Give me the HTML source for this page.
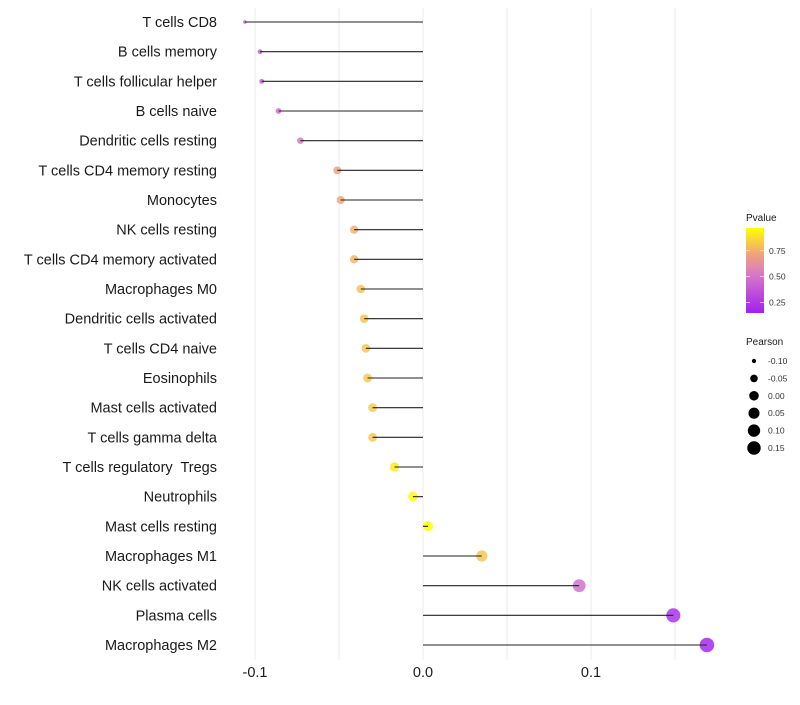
<!DOCTYPE html>
<html><head><meta charset="utf-8"><style>
body{margin:0;background:#fff;font-family:"Liberation Sans",sans-serif}
</style></head><body>
<svg id="chart" width="800" height="700" font-family="Liberation Sans, sans-serif"></svg>
<script>
const categories=["T cells CD8","B cells memory","T cells follicular helper","B cells naive","Dendritic cells resting","T cells CD4 memory resting","Monocytes","NK cells resting","T cells CD4 memory activated","Macrophages M0","Dendritic cells activated","T cells CD4 naive","Eosinophils","Mast cells activated","T cells gamma delta","T cells regulatory  Tregs","Neutrophils","Mast cells resting","Macrophages M1","NK cells activated","Plasma cells","Macrophages M2"];
const pearson=[-0.106,-0.097,-0.096,-0.086,-0.073,-0.051,-0.049,-0.041,-0.041,-0.037,-0.035,-0.034,-0.033,-0.030,-0.030,-0.017,-0.006,0.003,0.035,0.093,0.149,0.169];
const pvalue=[0.36,0.40,0.40,0.45,0.53,0.70,0.72,0.76,0.77,0.80,0.81,0.81,0.82,0.82,0.82,0.92,0.96,0.97,0.81,0.47,0.20,0.16];
const xTicks=[-0.1,0,0.1];
const xTickLabels=["-0.1","0.0","0.1"];
const pLegendTicks=[0.25,0.5,0.75];
const sizeLegend=[-0.10,-0.05,0.00,0.05,0.10,0.15];

const svg=document.getElementById('chart');
const NS='http://www.w3.org/2000/svg';
function mk(t,a,p){const e=document.createElementNS(NS,t);for(const k in a)e.setAttribute(k,a[k]);(p||svg).appendChild(e);return e;}
const x=v=>423+v*1680;
const y=i=>22+i*(623/21);
const pMin=0.15,pMax=0.97;
const stops=[[0,[160,32,240]],[0.45,[215,120,200]],[0.7,[240,165,120]],[1,[255,255,0]]];
function col(p){let t=Math.max(0,Math.min(1,(p-pMin)/(pMax-pMin)));for(let i=1;i<stops.length;i++){if(t<=stops[i][0]){const[a,c0]=stops[i-1],[b,c1]=stops[i];const f=(t-a)/(b-a);return 'rgb('+c0.map((c,j)=>Math.round(c+(c1[j]-c)*f)).join(',')+')';}}return 'rgb(255,255,0)';}
const r=v=>Math.sqrt(3+50*Math.pow(Math.max(0,(v+0.106)/0.275),0.85));

[-0.1,-0.05,0,0.05,0.1,0.15].forEach(v=>{const g=mk('line',{x1:x(v),x2:x(v),y1:8,y2:660,stroke:'#ebebeb','stroke-width':1});
});
categories.forEach((c,i)=>{
  const t=mk('text',{x:217,y:y(i)+5,'text-anchor':'end','font-size':14.5,fill:'#1a1a1a','xml:space':'preserve'});t.style.whiteSpace='pre';t.textContent=c;
  
  const pt=mk('circle',{cx:x(pearson[i]),cy:y(i),r:r(pearson[i]),fill:col(pvalue[i]),'fill-opacity':0.82});
  
  const ln=mk('line',{x1:x(0),x2:x(pearson[i]),y1:y(i),y2:y(i),stroke:'#222','stroke-width':1.1});
  
});
xTicks.forEach((v,i)=>{const t=mk('text',{x:x(v),y:677,'text-anchor':'middle','font-size':14.5,fill:'#1a1a1a'});t.textContent=xTickLabels[i];
});
let tt=mk('text',{x:746,y:221,'font-size':10,fill:'#1a1a1a'});tt.textContent='Pvalue';

const defs=mk('defs',{});const lg=mk('linearGradient',{id:'pg',x1:0,y1:1,x2:0,y2:0},defs);
for(let k=0;k<=10;k++){mk('stop',{offset:k/10,'stop-color':col(pMin+(pMax-pMin)*k/10)},lg);}
const py=p=>313-(p-pMin)/(pMax-pMin)*85;
const bar=mk('rect',{x:746,y:228,width:18,height:85,fill:'url(#pg)'});

pLegendTicks.forEach(p=>{mk('line',{x1:746,x2:750,y1:py(p),y2:py(p),stroke:'#fff','stroke-width':0.6});mk('line',{x1:760,x2:764,y1:py(p),y2:py(p),stroke:'#fff','stroke-width':0.6});
const t=mk('text',{x:769,y:py(p)+3,'font-size':8.5,fill:'#333'});t.textContent=p.toFixed(2);
});
tt=mk('text',{x:746,y:345,'font-size':10,fill:'#1a1a1a'});tt.textContent='Pearson';

sizeLegend.forEach((v,i)=>{const cy=361+i*17.4;const c=mk('circle',{cx:754,cy:cy,r:r(v)*0.95,fill:'#000'});

const t=mk('text',{x:768,y:cy+3,'font-size':8.5,fill:'#333'});t.textContent=v.toFixed(2);
});
</script>
</body></html>
